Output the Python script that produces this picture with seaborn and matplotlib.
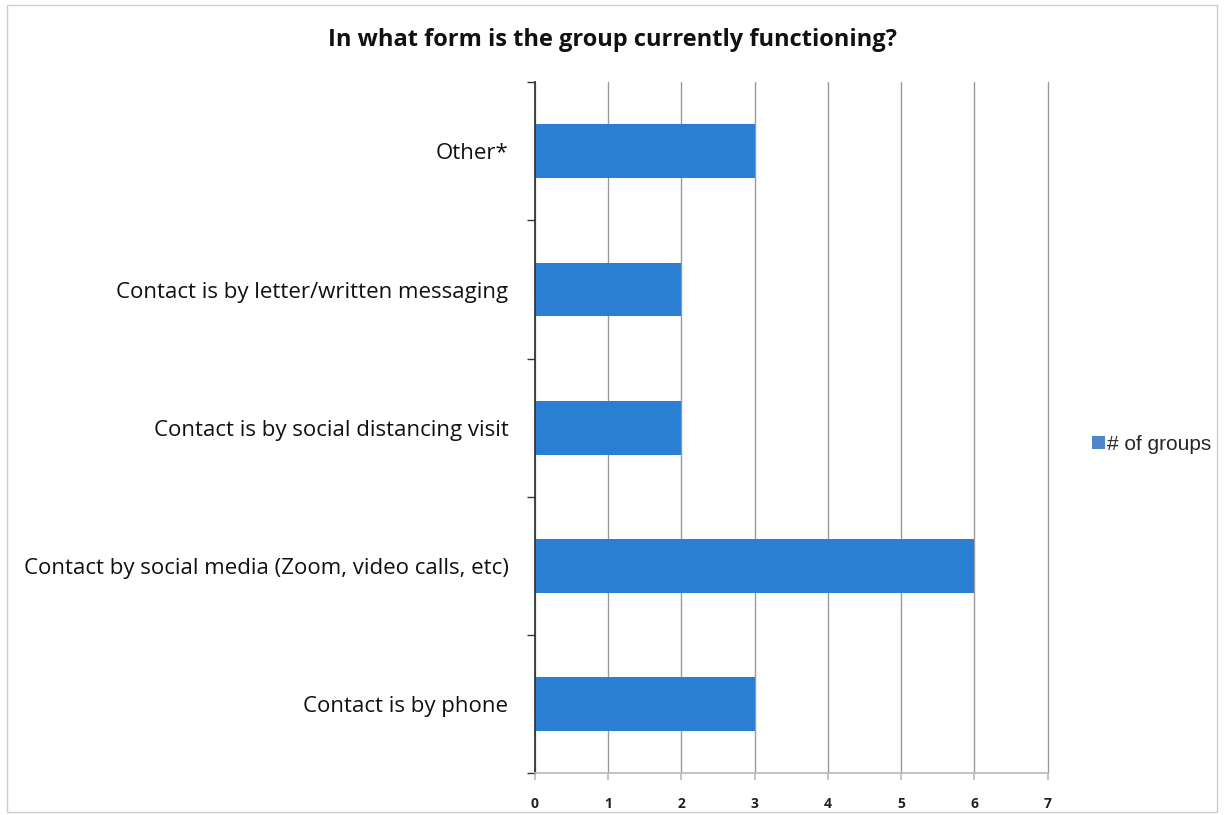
import numpy as np
import pandas as pd
import matplotlib.pyplot as plt
import seaborn as sns
from matplotlib.patches import Rectangle, Patch

categories = ['Other*',
              'Contact is by letter/written messaging',
              'Contact is by social distancing visit',
              'Contact by social media (Zoom, video calls, etc)',
              'Contact is by phone']
groups = [3, 2, 2, 6, 3]
x_ticks = [0, 1, 2, 3, 4, 5, 6, 7]

df = pd.DataFrame({'form': categories, 'groups': groups})

sns.set_theme(style='white')
plt.rcParams['font.family'] = ['Open Sans', 'DejaVu Sans']

fig = plt.figure(figsize=(12.24, 8.15), dpi=100)
ax = fig.add_axes([0.437, 0.0515, 0.419, 0.8475])

sns.barplot(data=df, x='groups', y='form', order=categories, color='#2B7FD3',
            saturation=1, width=0.39, linewidth=0, ax=ax)

ax.set_xlim(0, 7)
ax.set_ylim(len(categories) - 0.5, -0.5)
ax.set_xticks(x_ticks)
ax.set_xticklabels([str(t) for t in x_ticks], fontsize=10, fontweight='bold', color='#222222')
ax.tick_params(axis='x', bottom=True, length=5, color='#bbbbbb', pad=12)
ax.set_axisbelow(True)
ax.xaxis.grid(True, color='#999999', linewidth=1)
for gl in ax.get_xgridlines():
    gl.set_clip_on(False)

# category labels at centers, tick marks at boundaries
ax.tick_params(axis='y', which='major', length=0, pad=19, labelsize=16, labelcolor='#111111')
ax.set_yticks(np.arange(-0.5, len(categories), 1.0), minor=True)
ax.tick_params(axis='y', which='minor', left=True, length=6, color='#333333', width=1)

ax.set_xlabel('')
ax.set_ylabel('')
for side in ['top', 'right']:
    ax.spines[side].set_visible(False)
ax.spines['left'].set_color('#333333')
ax.spines['bottom'].set_color('#bbbbbb')

fig.text(0.5, 0.951, 'In what form is the group currently functioning?',
         ha='center', va='center', fontsize=17, fontweight='bold', color='#111111')

handle = Patch(facecolor='#4F86C9', edgecolor='none')
fig.legend([handle], ['# of groups'], loc='center left', bbox_to_anchor=(0.877, 0.455),
           frameon=False, handlelength=0.6, handleheight=0.6, handletextpad=0.1,
           prop={'family': 'Liberation Sans', 'size': 15})

fig.patches.append(Rectangle((0.006, 0.004), 0.988, 0.99, transform=fig.transFigure,
                             fill=False, edgecolor='#cccccc', linewidth=1))

plt.savefig('out.png', dpi=100)
